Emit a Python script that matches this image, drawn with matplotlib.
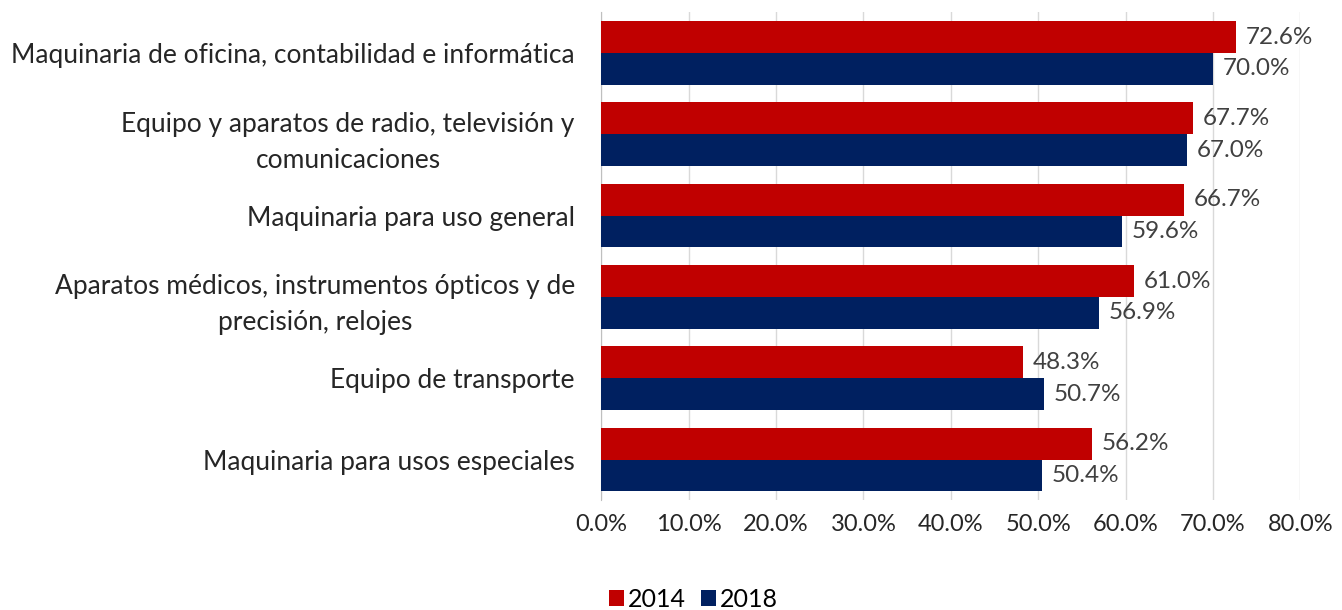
import numpy as np
import matplotlib.pyplot as plt
from matplotlib.ticker import FuncFormatter

# Categories from top to bottom
categories = [
    "Maquinaria de oficina, contabilidad e informática",
    "Equipo y aparatos de radio, televisión y\ncomunicaciones",
    "Maquinaria para uso general",
    "Aparatos médicos, instrumentos ópticos y de\nprecisión, relojes",
    "Equipo de transporte",
    "Maquinaria para usos especiales",
]
values_2014 = [72.6, 67.7, 66.7, 61.0, 48.3, 56.2]
values_2018 = [70.0, 67.0, 59.6, 56.9, 50.7, 50.4]
series_names = ["2014", "2018"]
colors = ["#C00000", "#002060"]

plt.rcParams['font.family'] = ['Lato', 'DejaVu Sans']

fig = plt.figure(figsize=(13.42, 6.10), dpi=100)
ax = fig.add_axes([0.448, 0.180, 0.521, 0.800])

y = np.arange(len(categories))
h = 0.39
b1 = ax.barh(y - h / 2, values_2014, height=h, color=colors[0], label=series_names[0], zorder=3)
b2 = ax.barh(y + h / 2, values_2018, height=h, color=colors[1], label=series_names[1], zorder=3)

for bars, vals in ((b1, values_2014), (b2, values_2018)):
    for bar, v in zip(bars, vals):
        ax.annotate(f"{v:.1f}%", (bar.get_width(), bar.get_y() + bar.get_height() / 2),
                    xytext=(7, 0), textcoords="offset points", va="center", ha="left",
                    fontsize=17.5, color="#404040")

ax.set_xlim(0, 80)
ax.set_ylim(len(categories) - 0.5, -0.5)
ax.set_xticks(np.arange(0, 81, 10))
ax.xaxis.set_major_formatter(FuncFormatter(lambda x, p: f"{x:.1f}%"))
ax.set_yticks(y)
ax.set_yticklabels(categories, multialignment="center", linespacing=1.55)
ax.tick_params(axis="y", length=0, pad=19, labelsize=19, labelcolor="#262626")
ax.tick_params(axis="x", length=0, pad=10, labelsize=17, labelcolor="#262626")

ax.grid(axis="x", color="#D9D9D9", linewidth=1, zorder=0)
for s in ["top", "right", "bottom"]:
    ax.spines[s].set_visible(False)
ax.spines["left"].set_color("#BFBFBF")

fig.legend(handles=[b1, b2], labels=series_names, loc="center left",
           bbox_to_anchor=(0.437, 0.018), ncol=2, frameon=False, fontsize=18,
           handlelength=0.6, handleheight=0.6, handletextpad=0.15, columnspacing=0.6)

fig.savefig("out.png", dpi=100)
